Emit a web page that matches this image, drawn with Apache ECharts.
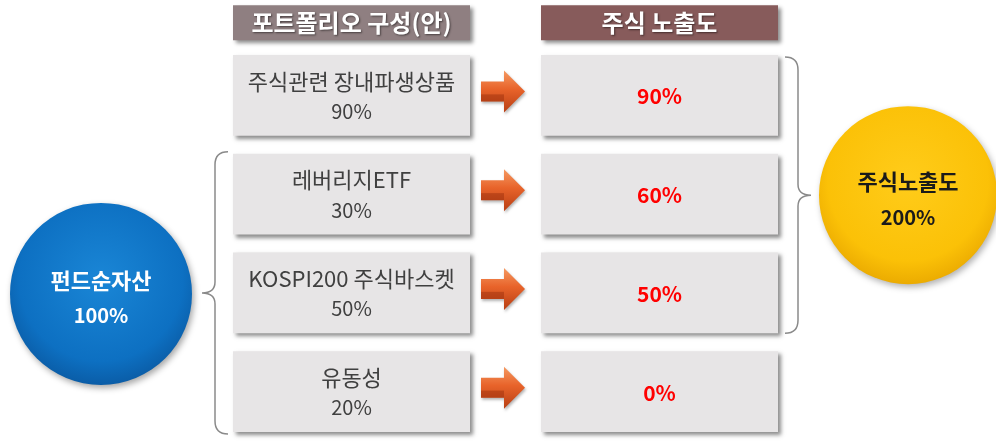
<!DOCTYPE html>
<html>
<head>
<meta charset="utf-8">
<script src="https://cdn.jsdelivr.net/npm/echarts@6/dist/echarts.min.js"></script>
<style>
  html, body { margin: 0; padding: 0; background: #fff; }
  #main { width: 996px; height: 441px; }
</style>
</head>
<body>
<div id="main"></div>
<script>
// portfolio composition -> equity exposure
const categories = ['주식관련 장내파생상품', '레버리지ETF', 'KOSPI200 주식바스켓', '유동성'];
const weights = [90, 30, 50, 20];      // 포트폴리오 구성 (%)
const exposure = [90, 60, 50, 0];      // 주식 노출도 (%)
const headers = ['포트폴리오 구성(안)', '주식 노출도'];
const fundLabel = '펀드순자산';
const fundTotal = 100;
const exposureLabel = '주식노출도';
const exposureTotal = 200;

const FONT = '"Noto Sans CJK KR", "Noto Sans", sans-serif';
const chart = echarts.init(document.getElementById('main'), null, { renderer: 'canvas' });

const boxShadow = { shadowBlur: 4, shadowOffsetX: 3, shadowOffsetY: 3, shadowColor: 'rgba(0,0,0,0.45)' };

function arrowShape(x0, cy) {
  // 3d-ish block arrow
  return [
    [x0, cy - 10], [x0 + 23, cy - 10], [x0 + 23, cy - 21], [x0 + 44, cy],
    [x0 + 23, cy + 21], [x0 + 23, cy + 10], [x0, cy + 10]
  ];
}

function renderRow(params, api) {
  const i = api.value(0);
  const cy = api.coord([0, i])[1];
  const band = api.size([0, 1])[1];
  const h = band * 0.82;
  const top = cy - h / 2;
  const lx = api.coord([233, i])[0];
  const lr = api.coord([470, i])[0];
  const rx = api.coord([541, i])[0];
  const rr = api.coord([778, i])[0];
  const ax = api.coord([481, i])[0];
  const ay = cy - 4;
  return {
    type: 'group',
    children: [
      { type: 'rect', shape: { x: lx, y: top, width: lr - lx, height: h },
        style: Object.assign({ fill: '#e7e5e6' }, boxShadow) },
      { type: 'text', style: { x: (lx + lr) / 2, y: cy - 14, text: categories[i], align: 'center', verticalAlign: 'middle',
        font: '22px ' + FONT, fill: '#404040' } },
      { type: 'text', style: { x: (lx + lr) / 2, y: cy + 16, text: weights[i] + '%', align: 'center', verticalAlign: 'middle',
        font: '20px ' + FONT, fill: '#404040' } },
      { type: 'polygon', shape: { points: arrowShape(ax, ay) },
        style: { fill: new echarts.graphic.LinearGradient(0, 0, 0, 1, [
          { offset: 0, color: '#f59a62' }, { offset: 0.45, color: '#e8632a' }, { offset: 1, color: '#b83f14' }]),
          shadowBlur: 3, shadowOffsetX: 1, shadowOffsetY: 2, shadowColor: 'rgba(0,0,0,0.3)' } },
      { type: 'polygon', shape: { points: [[ax, ay + 3], [ax + 23, ay + 3], [ax + 23, ay + 10], [ax, ay + 10]] },
        style: { fill: 'rgba(150,45,10,0.45)' } },
      { type: 'rect', shape: { x: rx, y: top, width: rr - rx, height: h },
        style: Object.assign({ fill: '#e7e5e6' }, boxShadow) },
      { type: 'text', style: { x: (rx + rr) / 2, y: cy + 1, text: exposure[i] + '%', align: 'center', verticalAlign: 'middle',
        font: 'bold 21px ' + FONT, fill: '#ff0000' } }
    ]
  };
}

function bracePath(x, y0, y1, dir) {
  // dir = -1 points left, 1 points right
  const m = (y0 + y1) / 2;
  const xs = x + dir * 13;
  const tip = xs + dir * 13;
  return 'M' + x + ',' + y0 + ' Q' + xs + ',' + y0 + ' ' + xs + ',' + (y0 + 13) +
    ' L' + xs + ',' + (m - 11) + ' Q' + xs + ',' + m + ' ' + tip + ',' + m +
    ' Q' + xs + ',' + m + ' ' + xs + ',' + (m + 11) +
    ' L' + xs + ',' + (y1 - 13) + ' Q' + xs + ',' + y1 + ' ' + x + ',' + y1;
}

function renderFrame(params, api) {
  const band = api.size([0, 1])[1];
  const h = band * 0.82;
  const y = k => api.coord([0, k])[1];
  const x = v => api.coord([v, 0])[0];
  const headTop = y(0) - band * 0.74 - 17;
  const children = [];
  [[233, 470, '#8f7f81'], [541, 778, '#875b5b']].forEach((d, k) => {
    children.push({ type: 'rect', shape: { x: x(d[0]), y: headTop, width: x(d[1]) - x(d[0]), height: 35 },
      style: Object.assign({ fill: d[2] }, boxShadow) });
    children.push({ type: 'text', style: { x: (x(d[0]) + x(d[1])) / 2, y: headTop + 18, text: headers[k], align: 'center',
      verticalAlign: 'middle', font: 'bold 24px ' + FONT, fill: '#ffffff',
      textShadowBlur: 2, textShadowColor: 'rgba(0,0,0,0.5)', textShadowOffsetX: 1, textShadowOffsetY: 1 } });
  });
  // braces
  children.push({ type: 'path', shape: { pathData: bracePath(x(228), y(1) - h / 2 - 2, y(3) + h / 2 + 2, -1) },
    style: { fill: 'none', stroke: '#8a8a8a', lineWidth: 1.5 } });
  children.push({ type: 'path', shape: { pathData: bracePath(x(785), y(0) - h / 2 + 2, y(2) + h / 2, 1) },
    style: { fill: 'none', stroke: '#8a8a8a', lineWidth: 1.5 } });
  // circles
  const bcx = x(101), bcy = y(2) + 1;
  children.push({ type: 'circle', shape: { cx: bcx, cy: bcy, r: 91 },
    style: { fill: new echarts.graphic.RadialGradient(0.5, 0.42, 0.6, [
      { offset: 0, color: '#1a86d6' }, { offset: 0.75, color: '#0d70c2' }, { offset: 1, color: '#0a5aa3' }]),
      shadowBlur: 6, shadowOffsetX: 2, shadowOffsetY: 3, shadowColor: 'rgba(0,0,0,0.35)' } });
  children.push({ type: 'text', style: { x: bcx, y: bcy - 13, text: fundLabel, align: 'center', verticalAlign: 'middle',
    font: 'bold 22px ' + FONT, fill: '#ffffff' } });
  children.push({ type: 'text', style: { x: bcx, y: bcy + 22, text: fundTotal + '%', align: 'center', verticalAlign: 'middle',
    font: 'bold 20px ' + FONT, fill: '#ffffff' } });
  const ycx = x(908), ycy = y(1) + 1;
  children.push({ type: 'circle', shape: { cx: ycx, cy: ycy, r: 89 },
    style: { fill: new echarts.graphic.RadialGradient(0.5, 0.42, 0.6, [
      { offset: 0, color: '#ffcc1a' }, { offset: 0.75, color: '#fbc107' }, { offset: 1, color: '#e9a800' }]),
      shadowBlur: 6, shadowOffsetX: 2, shadowOffsetY: 3, shadowColor: 'rgba(0,0,0,0.3)' } });
  children.push({ type: 'text', style: { x: ycx, y: ycy - 13, text: exposureLabel, align: 'center', verticalAlign: 'middle',
    font: 'bold 22px ' + FONT, fill: '#1a1a1a' } });
  children.push({ type: 'text', style: { x: ycx, y: ycy + 22, text: exposureTotal + '%', align: 'center', verticalAlign: 'middle',
    font: 'bold 20px ' + FONT, fill: '#1a1a1a' } });
  return { type: 'group', children: children };
}

const option = {
  animation: false,
  grid: { left: 0, right: 0, top: 46, bottom: -3 },
  xAxis: { type: 'value', min: 0, max: 996, show: false },
  yAxis: { type: 'category', data: categories, inverse: true, show: false },
  series: [
    { type: 'custom', renderItem: renderFrame, data: [[0, 0]], encode: { x: 0, y: 1 }, clip: false, z: 1 },
    { type: 'custom', renderItem: renderRow, data: categories.map((c, i) => [i]), encode: { y: 0 }, clip: false, z: 2 }
  ]
};

chart.setOption(option);
</script>
</body>
</html>
